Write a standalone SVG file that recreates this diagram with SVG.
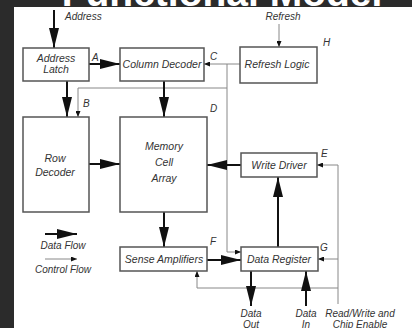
<svg xmlns="http://www.w3.org/2000/svg" width="412" height="328" viewBox="0 0 412 328">
<style>
.box{fill:#fff;stroke:#555;stroke-width:1.5}
.lbl{font-family:"Liberation Sans",Arial,sans-serif;font-style:italic;font-size:10.5px;fill:#333;text-anchor:middle}
.sm{font-family:"Liberation Sans",Arial,sans-serif;font-style:italic;font-size:10px;fill:#333}
.data{stroke:#111;stroke-width:2;fill:none}
.ctl{stroke:#888;stroke-width:1;fill:none}
</style>
<defs>
<marker id="big" markerUnits="userSpaceOnUse" markerWidth="20" markerHeight="10" refX="20" refY="5" orient="auto">
<path d="M0,0 L20,5 L0,10 z" fill="#111"/>
</marker>
<marker id="small" markerUnits="userSpaceOnUse" markerWidth="6" markerHeight="5" refX="6" refY="2.5" orient="auto">
<path d="M0,0 L6,2.5 L0,5 z" fill="#111"/>
</marker>
</defs>
<rect x="0" y="0" width="412" height="328" fill="#2b2b2b"/>
<text x="222" y="6" font-family="Liberation Sans,Arial,sans-serif" font-weight="bold" font-size="39" fill="#fff" text-anchor="middle">Functional Model</text>
<rect x="14" y="7" width="398" height="321" fill="#fff"/>

<g id="connectors">
<line class="data" x1="54" y1="10" x2="54" y2="48" marker-end="url(#big)"/>
<line class="ctl" x1="279" y1="24" x2="279" y2="47" marker-end="url(#small)"/>
<line class="data" x1="89" y1="64" x2="120" y2="64" marker-end="url(#big)"/>
<line class="ctl" x1="240" y1="64" x2="204" y2="64" marker-end="url(#small)"/>
<polyline class="ctl" points="227,64 227,88 78,88 78,117" marker-end="url(#small)"/>
<polyline class="ctl" points="227,88 227,252 241,252" marker-end="url(#small)"/>
<line class="data" x1="67" y1="81" x2="67" y2="117" marker-end="url(#big)"/>
<line class="data" x1="164" y1="81" x2="164" y2="117" marker-end="url(#big)"/>
<line class="data" x1="89" y1="164" x2="120" y2="164" marker-end="url(#big)"/>
<line class="data" x1="241" y1="165" x2="207" y2="165" marker-end="url(#big)"/>
<polyline class="ctl" points="338,304 338,165 317,165" marker-end="url(#small)"/>
<line class="ctl" x1="338" y1="259" x2="318" y2="259" marker-end="url(#small)"/>
<polyline class="ctl" points="338,288 197,288 197,271" marker-end="url(#small)"/>
<line class="data" x1="164" y1="212" x2="164" y2="247" marker-end="url(#big)"/>
<line class="data" x1="207" y1="260" x2="241" y2="260" marker-end="url(#big)"/>
<line class="data" x1="278" y1="247" x2="278" y2="177" marker-end="url(#big)"/>
<line class="data" x1="251" y1="271" x2="251" y2="306" marker-end="url(#big)"/>
<line class="data" x1="306" y1="306" x2="306" y2="271" marker-end="url(#big)"/>
</g>

<g id="address-latch">
<rect class="box" x="23" y="48" width="66" height="33"/>
<text class="lbl" x="56" y="62">Address</text>
<text class="lbl" x="56" y="73">Latch</text>
</g>
<g id="column-decoder">
<rect class="box" x="120" y="48" width="84" height="33"/>
<text class="lbl" x="162" y="68">Column Decoder</text>
</g>
<g id="refresh-logic">
<rect class="box" x="240" y="47" width="77" height="36"/>
<text class="lbl" x="277" y="68">Refresh Logic</text>
</g>
<g id="row-decoder">
<rect class="box" x="23" y="117" width="66" height="95"/>
<text class="lbl" x="55" y="162">Row</text>
<text class="lbl" x="55" y="176">Decoder</text>
</g>
<g id="memory-cell-array">
<rect class="box" x="120" y="117" width="87" height="95"/>
<text class="lbl" x="164" y="150">Memory</text>
<text class="lbl" x="164" y="166">Cell</text>
<text class="lbl" x="164" y="182">Array</text>
</g>
<g id="write-driver">
<rect class="box" x="241" y="153" width="76" height="24"/>
<text class="lbl" x="279" y="169">Write Driver</text>
</g>
<g id="sense-amplifiers">
<rect class="box" x="120" y="247" width="87" height="24"/>
<text class="lbl" x="164" y="263">Sense Amplifiers</text>
</g>
<g id="data-register">
<rect class="box" x="241" y="247" width="77" height="24"/>
<text class="lbl" x="279" y="263">Data Register</text>
</g>

<g id="labels">
<text class="sm" x="65" y="20">Address</text>
<text class="sm" x="283" y="20" text-anchor="middle">Refresh</text>
<text class="sm" x="323" y="46">H</text>
<text class="sm" x="92" y="61">A</text>
<text class="sm" x="210" y="60">C</text>
<text class="sm" x="83" y="107">B</text>
<text class="sm" x="210" y="112">D</text>
<text class="sm" x="321" y="157">E</text>
<text class="sm" x="210" y="245">F</text>
<text class="sm" x="320" y="251">G</text>
<text class="sm" x="251" y="317" text-anchor="middle">Data</text>
<text class="sm" x="251" y="328" text-anchor="middle">Out</text>
<text class="sm" x="306" y="317" text-anchor="middle">Data</text>
<text class="sm" x="306" y="328" text-anchor="middle">In</text>
<text class="sm" x="360" y="317" text-anchor="middle">Read/Write and</text>
<text class="sm" x="360" y="328" text-anchor="middle">Chip Enable</text>
</g>

<g id="legend">
<line class="data" x1="45" y1="234" x2="77" y2="234" marker-end="url(#big)"/>
<text class="sm" x="63" y="249" text-anchor="middle">Data Flow</text>
<line class="ctl" x1="45" y1="259" x2="77" y2="259" marker-end="url(#small)"/>
<text class="sm" x="63" y="273" text-anchor="middle">Control Flow</text>
</g>
</svg>
